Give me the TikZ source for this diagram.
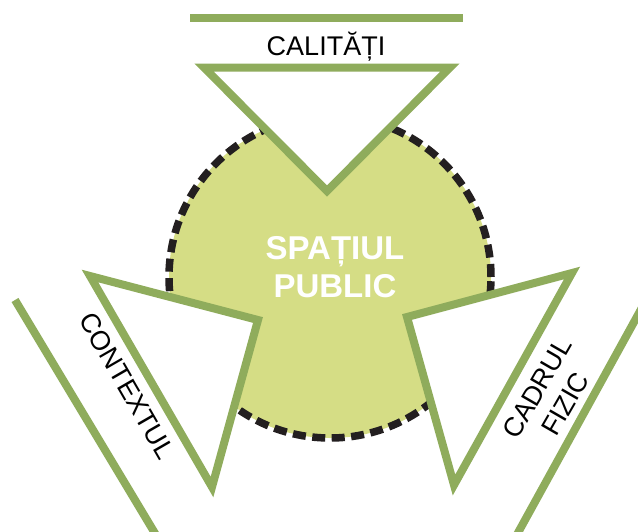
\documentclass[tikz,border=0pt]{standalone}
\usepackage{fontspec}
\setmainfont{Liberation Sans}
\definecolor{verdelinie}{RGB}{143,172,92}
\definecolor{verdefond}{RGB}{213,221,133}
\definecolor{negrucerc}{RGB}{35,31,32}

\begin{document}
\begin{tikzpicture}[
  x=1pt, y=-1pt,
  triunghi/.style={draw=verdelinie, line width=8pt, fill=white, line join=miter},
  linie/.style={draw=verdelinie, line width=8pt},
  eticheta/.style={font=\fontsize{27}{32}\selectfont, text=black, align=center, inner sep=0pt}
]

\useasboundingbox (0,0) rectangle (638,531);

% --- Cercul central ---
\node[
  circle,
  minimum size=322pt,
  fill=verdefond,
  draw=negrucerc,
  line width=7.5pt,
  dash pattern=on 13pt off 6.5pt
] (spatiu) at (330,277) {};

% --- Triunghiuri ---

% Sus
\draw[triunghi] (204,67.5) -- (450,67.5) -- (327,191) -- cycle;

% Stanga
\draw[triunghi] (90,276) -- (258,320) -- (212,487) -- cycle;

% Dreapta
\draw[triunghi] (407,317) -- (572,273) -- (454,485) -- cycle;

% --- Linii exterioare ---
\draw[linie] (190,17.5) -- (463,17.5);
\draw[linie] (15,300) -- (159,540);
\draw[linie] (650,293) -- (514,540);

% --- Texte ---
\node[
  font=\bfseries\fontsize{33}{38}\selectfont,
  text=white,
  align=center,
  inner sep=0pt
] (titlu) at (335,267) {SPAȚIUL\\PUBLIC};

\node[eticheta, anchor=base] (calitati) at (326,55) {CALITĂȚI};

\node[eticheta, rotate=-60] (context) at (127,386) {CONTEXTUL};

\node[eticheta, rotate=60] (cadru) at (551,396) {CADRUL\\FIZIC};

\end{tikzpicture}
\end{document}
